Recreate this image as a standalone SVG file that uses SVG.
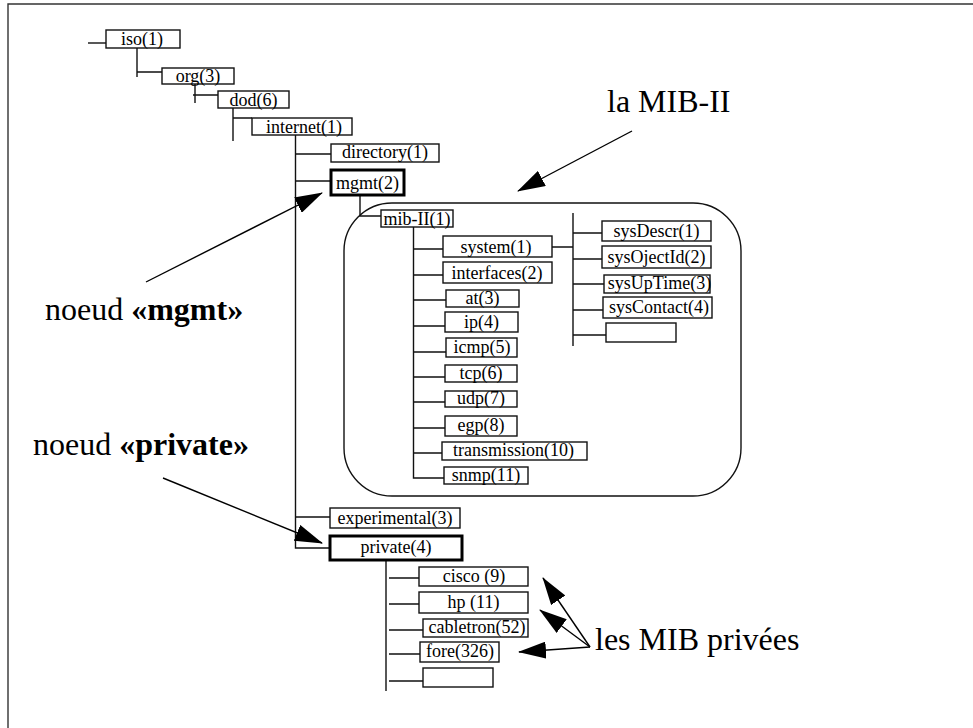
<svg xmlns="http://www.w3.org/2000/svg" width="973" height="728" viewBox="0 0 973 728">
  <defs>
    <style>
      .box { fill: #fff; stroke: #111; stroke-width: 1.4; }
      .bold { fill: #fff; stroke: #000; stroke-width: 3; }
      .lbl { font-family: "Liberation Serif", "Times New Roman", serif; font-size: 18px; fill: #000; text-anchor: middle; }
      .note { font-family: "Liberation Serif", "Times New Roman", serif; font-size: 32px; fill: #000; }
      .wire { stroke: #111; stroke-width: 1.4; fill: none; }
      .ptr { stroke: #000; stroke-width: 1.4; fill: none; marker-end: url(#head); }
    </style>
    <marker id="head" viewBox="0 0 28 17" refX="27" refY="8.5" markerWidth="28" markerHeight="17" markerUnits="userSpaceOnUse" orient="auto">
      <path d="M0,0 L28,8.5 L0,17 Z" fill="#000"/>
    </marker>
  </defs>
  <rect width="973" height="728" fill="#fff"/>

  <!-- frame -->
  <path d="M8,728 V4 H973" fill="none" stroke="#333" stroke-width="1.4"/>

  <!-- MIB-II enclosure -->
  <rect id="mib2-area" x="344" y="203" width="397" height="293" rx="48" ry="48" fill="none" stroke="#111" stroke-width="1.4"/>

  <!-- connectors -->
  <g id="connectors">
    <path class="wire" d="M88,43 H106"/>
    <path class="wire" d="M137,48 V77 M137,72 H162"/>
    <path class="wire" d="M195,80 V103 M193,95 H218"/>
    <path class="wire" d="M233,108 V141 M233,118 H252"/>
    <path class="wire" d="M295.5,135 V548 H330 M295.5,154 H331 M295.5,181 H331 M295.5,517 H330"/>
    <path class="wire" d="M360,195 V216 H381"/>
    <path class="wire" d="M413.5,227 V478 H444 M413.5,249 H443 M413.5,275 H443 M413.5,300 H446 M413.5,326 H445 M413.5,352 H446 M413.5,377 H445 M413.5,402 H445 M413.5,428 H445 M413.5,453 H442"/>
    <path class="wire" d="M552,247 H573 M573,213 V346 M573,233 H602 M573,259 H602 M573,284 H604 M573,310 H603 M573,335 H606"/>
    <path class="wire" d="M386,560 V691 M389,578 H419 M389,604 H419 M389,630 H423 M389,654 H420 M389,681 H423"/>
  </g>

  <!-- tree nodes -->
  <g id="iso"><rect class="box" x="106" y="30" width="74" height="18"/><text class="lbl" x="142" y="45">iso(1)</text></g>
  <g id="org"><rect class="box" x="162" y="68" width="72" height="16"/><text class="lbl" x="198" y="82">org(3)</text></g>
  <g id="dod"><rect class="box" x="218" y="91" width="71" height="17"/><text class="lbl" x="253.5" y="106">dod(6)</text></g>
  <g id="internet"><rect class="box" x="252" y="118" width="100" height="17"/><text class="lbl" x="304" y="133">internet(1)</text></g>
  <g id="directory"><rect class="box" x="331" y="144" width="108" height="18"/><text class="lbl" x="385" y="158">directory(1)</text></g>
  <g id="mgmt"><rect class="bold" x="331" y="170" width="73" height="25"/><text class="lbl" x="367.5" y="189">mgmt(2)</text></g>
  <g id="mib-II"><rect class="box" x="381" y="210" width="72" height="17"/><text class="lbl" x="417" y="225">mib-II(1)</text></g>

  <g id="system"><rect class="box" x="443" y="236" width="109" height="21"/><text class="lbl" x="496" y="253">system(1)</text></g>
  <g id="interfaces"><rect class="box" x="443" y="262" width="109" height="21"/><text class="lbl" x="497" y="279">interfaces(2)</text></g>
  <g id="at"><rect class="box" x="446" y="290" width="73" height="17"/><text class="lbl" x="482.5" y="304">at(3)</text></g>
  <g id="ip"><rect class="box" x="445" y="312" width="73" height="20"/><text class="lbl" x="481.5" y="328">ip(4)</text></g>
  <g id="icmp"><rect class="box" x="446" y="338" width="71" height="19"/><text class="lbl" x="482" y="353">icmp(5)</text></g>
  <g id="tcp"><rect class="box" x="445" y="365" width="72" height="17"/><text class="lbl" x="481" y="379">tcp(6)</text></g>
  <g id="udp"><rect class="box" x="445" y="391" width="72" height="16"/><text class="lbl" x="481" y="404">udp(7)</text></g>
  <g id="egp"><rect class="box" x="445" y="416" width="72" height="20"/><text class="lbl" x="481" y="431">egp(8)</text></g>
  <g id="transmission"><rect class="box" x="442" y="442" width="145" height="18"/><text class="lbl" x="513.5" y="456">transmission(10)</text></g>
  <g id="snmp"><rect class="box" x="444" y="467" width="84" height="17"/><text class="lbl" x="486" y="481">snmp(11)</text></g>

  <g id="sysDescr"><rect class="box" x="602" y="221" width="109" height="20"/><text class="lbl" x="656.5" y="237">sysDescr(1)</text></g>
  <g id="sysObjectId"><rect class="box" x="602" y="246" width="109" height="22"/><text class="lbl" x="656.5" y="263">sysOjectId(2)</text></g>
  <g id="sysUpTime"><rect class="box" x="604" y="275" width="106" height="18"/><text class="lbl" x="659.5" y="289">sysUpTime(3)</text></g>
  <g id="sysContact"><rect class="box" x="603" y="297" width="109" height="21"/><text class="lbl" x="659" y="313">sysContact(4)</text></g>
  <g id="sys-more"><rect class="box" x="606" y="323" width="70" height="19"/></g>

  <g id="experimental"><rect class="box" x="330" y="508" width="130" height="20"/><text class="lbl" x="395" y="524">experimental(3)</text></g>
  <g id="private"><rect class="bold" x="330" y="536" width="132" height="24"/><text class="lbl" x="396" y="553">private(4)</text></g>

  <g id="cisco"><rect class="box" x="419" y="567" width="109" height="19"/><text class="lbl" x="474" y="582">cisco (9)</text></g>
  <g id="hp"><rect class="box" x="419" y="592" width="109" height="21"/><text class="lbl" x="473.5" y="608">hp (11)</text></g>
  <g id="cabletron"><rect class="box" x="423" y="619" width="105" height="18"/><text class="lbl" x="477" y="633">cabletron(52)</text></g>
  <g id="fore"><rect class="box" x="420" y="642" width="79" height="20"/><text class="lbl" x="460" y="657">fore(326)</text></g>
  <g id="private-more"><rect class="box" x="423" y="668" width="70" height="19"/></g>

  <!-- annotations -->
  <g id="note-mib2">
    <text class="note" x="607" y="112">la MIB-II</text>
    <line class="ptr" x1="632" y1="131" x2="518" y2="191"/>
  </g>
  <g id="note-mgmt">
    <text class="note" x="45" y="320">noeud <tspan font-weight="bold">«mgmt»</tspan></text>
    <line class="ptr" x1="146" y1="282" x2="322" y2="193"/>
  </g>
  <g id="note-private">
    <text class="note" x="33" y="455">noeud <tspan font-weight="bold">«private»</tspan></text>
    <line class="ptr" x1="163" y1="478" x2="322" y2="543"/>
  </g>
  <g id="note-private-mibs">
    <text class="note" x="595" y="650">les MIB privées</text>
    <line class="ptr" x1="590" y1="647" x2="543" y2="578"/>
    <line class="ptr" x1="590" y1="647" x2="540" y2="610"/>
    <line class="ptr" x1="590" y1="647" x2="519" y2="652"/>
  </g>
</svg>
